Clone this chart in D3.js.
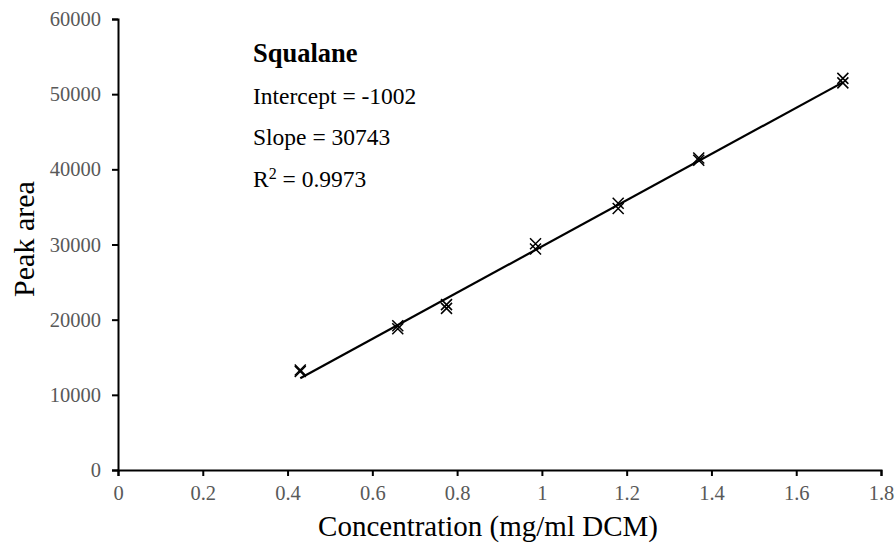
<!DOCTYPE html>
<html>
<head>
<meta charset="utf-8">
<script src="https://cdn.jsdelivr.net/npm/d3@7"></script>
<style>
body { margin: 0; background: #fff; }
svg { font-family: "Liberation Serif", "Times New Roman", serif; }
.axis { font-family: "Liberation Serif", "Times New Roman", serif; }
.tick text { fill: #595959; font-size: 20.5px; }
.axis path, .axis line { stroke: #000; stroke-width: 2; }
</style>
</head>
<body>
<svg width="896" height="546"></svg>
<script>
// calibration runs, replicate injections per concentration
const conc = [0.43, 0.43, 0.66, 0.66, 0.775, 0.775, 0.985, 0.985, 1.18, 1.18, 1.37, 1.37, 1.71, 1.71]
const area = [13100, 13300, 18800, 19200, 21500, 22000, 29400, 30100, 34800, 35500, 41200, 41500, 51500, 52100]

const xTicks = [0, 0.2, 0.4, 0.6, 0.8, 1, 1.2, 1.4, 1.6, 1.8]
const yTicks = [0, 10000, 20000, 30000, 40000, 50000, 60000]

// linear fit
const intercept = -1002
const slope = 30743
const rSquared = 0.9973

const svg = d3.select("svg")

const xScale = d3.scaleLinear()
	.domain([0, 1.8])
	.range([118, 881])

const yScale = d3.scaleLinear()
	.domain([0, 60000])
	.range([470, 19])

//axes
svg.append("g")
	.attr("class", "axis")
	.attr("transform", "translate(0,470)")
	.call(d3.axisBottom(xScale).tickValues(xTicks).tickSize(6).tickSizeOuter(6).tickPadding(9).tickFormat(d => d))

svg.append("g")
	.attr("class", "axis")
	.attr("transform", "translate(118,0)")
	.call(d3.axisLeft(yScale).tickValues(yTicks).tickSize(6).tickSizeOuter(6).tickPadding(11).tickFormat(d => d))

svg.selectAll(".axis").attr("font-family", null).attr("font-size", null)
svg.selectAll(".axis .domain").attr("stroke-width", 2.2)

//fit line over the measured range
const xExt = d3.extent(conc)
const fitLine = d3.line()
	.x(d => xScale(d))
	.y(d => yScale(intercept + slope * d))

svg.append("path")
	.datum(xExt)
	.attr("d", fitLine)
	.attr("fill", "none")
	.attr("stroke", "#000")
	.attr("stroke-width", 2.2)

//x markers
const s = 5.5
svg.selectAll("path.pt")
	.data(conc.map((c, i) => ({c: c, a: area[i]})))
	.enter()
	.append("path")
	.attr("class", "pt")
	.attr("d", d => {
		const x = xScale(d.c), y = yScale(d.a)
		return `M${x-s},${y-s}L${x+s},${y+s}M${x-s},${y+s}L${x+s},${y-s}`
	})
	.attr("stroke", "#000")
	.attr("stroke-width", 1.5)

//labels
svg.append("text")
	.attr("x", 488)
	.attr("y", 536)
	.attr("text-anchor", "middle")
	.style("font-size", "29px")
	.text("Concentration (mg/ml DCM)")

svg.append("text")
	.attr("transform", "translate(34,239) rotate(-90)")
	.attr("text-anchor", "middle")
	.style("font-size", "30px")
	.text("Peak area")

//fit summary
const note = svg.append("g").attr("transform", "translate(253,0)")

note.append("text")
	.attr("y", 62)
	.style("font-size", "26.5px")
	.style("font-weight", "bold")
	.text("Squalane")

note.append("text")
	.attr("y", 104)
	.style("font-size", "23.5px")
	.text("Intercept = " + intercept)

note.append("text")
	.attr("y", 145)
	.style("font-size", "23.5px")
	.text("Slope = " + slope)

const r2 = note.append("text")
	.attr("y", 187)
	.style("font-size", "23.5px")
r2.append("tspan").text("R")
r2.append("tspan").attr("dy", -8).style("font-size", "16px").text("2")
r2.append("tspan").attr("dy", 8).text(" = " + rSquared)
</script>
</body>
</html>
